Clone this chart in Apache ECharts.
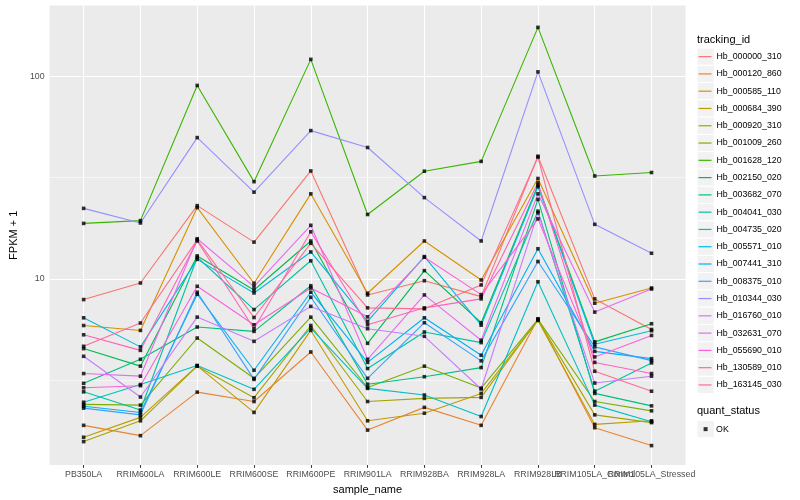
<!DOCTYPE html>
<html><head><meta charset="utf-8">
<script src="https://cdn.jsdelivr.net/npm/echarts@6/dist/echarts.min.js"></script>
<style>html,body{margin:0;padding:0;background:#fff}#c{width:800px;height:500px}</style>
</head><body><div id="c"></div>
<script>
// ---------------- data ----------------
const categories = ['PB350LA','RRIM600LA','RRIM600LE','RRIM600SE','RRIM600PE','RRIM901LA','RRIM928BA','RRIM928LA','RRIM928LB','RRIM105LA_Control','RRIM105LA_Stressed'];
const seriesNames = ['Hb_000000_310','Hb_000120_860','Hb_000585_110','Hb_000684_390','Hb_000920_310','Hb_001009_260','Hb_001628_120','Hb_002150_020','Hb_003682_070','Hb_004041_030','Hb_004735_020','Hb_005571_010','Hb_007441_310','Hb_008375_010','Hb_010344_030','Hb_016760_010','Hb_032631_070','Hb_055690_010','Hb_130589_010','Hb_163145_030'];
const hb_000000_310 = [7.92, 9.56, 23.0, 15.2, 34.1, 8.35, 9.81, 8.19, 40.3, 7.98, 5.64];
const hb_000120_860 = [1.90, 1.69, 2.77, 2.49, 4.37, 1.80, 2.33, 1.90, 6.37, 1.85, 1.51];
const hb_000585_110 = [5.90, 5.58, 22.5, 9.53, 26.3, 8.51, 15.4, 9.89, 31.3, 7.60, 9.03];
const hb_000684_390 = [1.66, 2.08, 3.73, 2.20, 5.58, 2.00, 2.18, 2.73, 6.25, 1.92, 2.00];
const hb_000920_310 = [1.58, 2.00, 3.72, 2.60, 5.90, 2.49, 2.58, 2.61, 6.30, 2.14, 1.96];
const hb_001009_260 = [2.41, 2.39, 5.12, 3.24, 6.49, 2.92, 3.72, 2.90, 6.33, 2.49, 2.24];
const hb_001628_120 = [18.8, 19.4, 90.0, 30.2, 121, 20.8, 34.0, 38.0, 174, 32.2, 33.5];
const hb_002150_020 = [4.54, 3.72, 13.0, 8.83, 15.4, 4.82, 11.0, 6.09, 29.0, 4.90, 6.02];
const hb_003682_070 = [3.06, 4.02, 5.80, 5.52, 9.27, 3.03, 3.30, 3.66, 24.7, 2.73, 2.37];
const hb_004041_030 = [2.78, 2.26, 12.8, 7.07, 12.3, 3.62, 5.48, 4.86, 21.6, 2.80, 3.86];
const hb_004735_020 = [2.47, 3.02, 3.75, 2.86, 5.73, 2.89, 2.68, 2.10, 9.70, 2.39, 1.98];
const hb_005571_010 = [6.44, 4.63, 12.5, 8.54, 13.6, 6.18, 12.9, 5.92, 28.5, 4.77, 5.56];
const hb_007441_310 = [2.36, 2.20, 8.41, 3.55, 8.61, 3.88, 6.44, 4.21, 14.1, 4.40, 4.05];
const hb_008375_010 = [2.31, 2.14, 8.61, 3.20, 8.13, 3.24, 6.09, 3.95, 12.2, 4.63, 3.96];
const hb_010344_030 = [22.3, 18.9, 49.8, 26.8, 53.9, 44.5, 25.2, 15.4, 105, 18.6, 13.4];
const hb_016760_010 = [4.16, 2.62, 6.49, 4.93, 7.33, 5.69, 5.22, 2.87, 21.2, 3.07, 3.32];
const hb_032631_070 = [3.42, 3.32, 15.8, 9.17, 18.4, 4.02, 8.35, 4.99, 26.3, 6.87, 8.93];
const hb_055690_010 = [2.91, 2.98, 9.21, 5.95, 9.03, 6.51, 12.8, 8.38, 19.8, 4.13, 5.27];
const hb_130589_010 = [5.31, 4.45, 15.4, 5.69, 17.1, 5.95, 7.21, 7.98, 29.8, 3.88, 3.42];
const hb_163145_030 = [4.66, 6.07, 15.6, 6.46, 15.0, 7.21, 7.13, 9.35, 39.9, 3.51, 2.80];
const yTickValues = [10, 100];
const yMinorBreaks = [3.162, 31.62];
const yRange = [1.21, 223];
const statusName = 'OK';

// ---------------- styles ----------------
const palette = ['#F8766D','#EA8331','#D89000','#C09B00','#A3A500','#7CAE00','#39B600','#00BB4E','#00BF7D','#00C1A3','#00BFC4','#00BAE0','#00B0F6','#35A2FF','#9590FF','#C77CFF','#E76BF3','#FA62DB','#FF62BC','#FF6C91'];
const FONT = '"Liberation Sans", Arial, sans-serif';
const allValues = [hb_000000_310,hb_000120_860,hb_000585_110,hb_000684_390,hb_000920_310,hb_001009_260,hb_001628_120,hb_002150_020,hb_003682_070,hb_004041_030,hb_004735_020,hb_005571_010,hb_007441_310,hb_008375_010,hb_010344_030,hb_016760_010,hb_032631_070,hb_055690_010,hb_130589_010,hb_163145_030];
const catIdx = categories.map((c, i) => i);
// even / odd category positions go on two overlaid axes so that overlapping labels are all kept
const catEven = catIdx.filter(i => i % 2 === 0);
const catOdd = catIdx.filter(i => i % 2 === 1);

const chart = echarts.init(document.getElementById('c'), null, {renderer: 'canvas'});

const series = [];
series.push({
  type: 'line', data: [], z: 1, silent: true, animation: false,
  markLine: {
    z: 1, zlevel: 0,
    silent: true, animation: false, symbol: ['none', 'none'], label: {show: false},
    lineStyle: {color: '#FFFFFF', type: 'solid'},
    emphasis: {disabled: true},
    data: [
      ...yMinorBreaks.map(v => ({yAxis: v, lineStyle: {width: 0.55, color: '#FFFFFF', type: 'solid'}})),
      ...yTickValues.map(v => ({yAxis: v, lineStyle: {width: 1.1, color: '#FFFFFF', type: 'solid'}})),
      ...catIdx.map(i => ({xAxis: i, lineStyle: {width: 1.1, color: '#FFFFFF', type: 'solid'}}))
    ]
  }
});
allValues.forEach((vals, s) => {
  series.push({
    name: seriesNames[s], type: 'line', z: 2, silent: true, animation: false,
    showSymbol: false, symbol: 'none',
    data: vals.map((v, j) => [catIdx[j], v]),
    lineStyle: {width: 1.1, color: palette[s]},
    itemStyle: {color: palette[s]}
  });
});
const pts = [];
allValues.forEach(vals => vals.forEach((v, j) => pts.push([catIdx[j], v])));
series.push({
  name: statusName, type: 'scatter', z: 3, silent: true, animation: false,
  symbol: 'rect', symbolSize: 3.6, data: pts, itemStyle: {color: '#000000'}
});

const keyBoxes = [];
const keyTop = 48, keyH = 17.28;
seriesNames.forEach((n, i) => keyBoxes.push({
  type: 'rect', z: -1, silent: true,
  shape: {x: 697, y: keyTop + i * keyH, width: keyH, height: keyH},
  style: {fill: '#F2F2F2', stroke: '#FFFFFF', lineWidth: 1}
}));
keyBoxes.push({
  type: 'rect', z: -1, silent: true,
  shape: {x: 697, y: 420.5, width: keyH, height: keyH},
  style: {fill: '#F2F2F2', stroke: '#FFFFFF', lineWidth: 1}
});

function xAxisDef(values, withName) {
  return {
    type: 'value', min: -0.6, max: 10.6, position: 'bottom', offset: 0,
    name: withName ? 'sample_name' : '', nameLocation: 'middle', nameGap: 17,
    nameTextStyle: {fontSize: 11, color: '#000', fontFamily: FONT},
    axisLine: {show: false},
    axisTick: {show: true, length: 2.75, lineStyle: {color: '#333333', width: 1.07}, customValues: values},
    axisLabel: {show: true, color: '#4D4D4D', fontSize: 8.8, fontFamily: FONT, margin: 5, customValues: values,
      showMinLabel: true, showMaxLabel: true, hideOverlap: false,
      formatter: v => categories[Math.round(v)] || ''},
    splitLine: {show: false}, minorSplitLine: {show: false}
  };
}

chart.setOption({
  animation: false,
  backgroundColor: '#FFFFFF',
  textStyle: {fontFamily: FONT},
  grid: {left: 40.4, right: 114.4, top: 5.5, bottom: 33, show: true, backgroundColor: '#EBEBEB', borderWidth: 0, containLabel: false},
  xAxis: [xAxisDef(catEven, true), xAxisDef(catOdd, false)],
  yAxis: {
    type: 'log', logBase: 10, min: yRange[0], max: yRange[1],
    name: 'FPKM + 1', nameLocation: 'middle', nameGap: 23,
    nameTextStyle: {fontSize: 11, color: '#000', fontFamily: FONT},
    axisLine: {show: false},
    axisTick: {show: true, length: 2.75, lineStyle: {color: '#333333', width: 1.07}, customValues: yTickValues},
    axisLabel: {show: true, color: '#4D4D4D', fontSize: 8.8, fontFamily: FONT, margin: 5, customValues: yTickValues,
      formatter: v => String(Math.round(v))},
    splitLine: {show: false}, minorSplitLine: {show: false}
  },
  title: [
    {text: 'tracking_id', left: 697, top: 34, padding: 0, textStyle: {fontSize: 11, fontWeight: 'normal', color: '#000', fontFamily: FONT}},
    {text: 'quant_status', left: 697, top: 405.5, padding: 0, textStyle: {fontSize: 11, fontWeight: 'normal', color: '#000', fontFamily: FONT}}
  ],
  legend: [
    {data: seriesNames, orient: 'vertical', left: 698.5, top: keyTop, padding: 0, itemGap: 0,
      itemWidth: 13, itemHeight: 1.2, icon: 'rect', selectedMode: false,
      textStyle: {fontSize: 8.8, color: '#000', fontFamily: FONT, lineHeight: keyH}},
    {data: [statusName], orient: 'vertical', left: 703.6, top: 420.5, padding: 0, itemGap: 0,
      itemWidth: 4, itemHeight: 4, icon: 'rect', selectedMode: false,
      textStyle: {fontSize: 8.8, color: '#000', fontFamily: FONT, lineHeight: keyH, padding: [0, 0, 0, 3.5]}}
  ],
  graphic: keyBoxes,
  series: series
});
</script>
</body></html>
